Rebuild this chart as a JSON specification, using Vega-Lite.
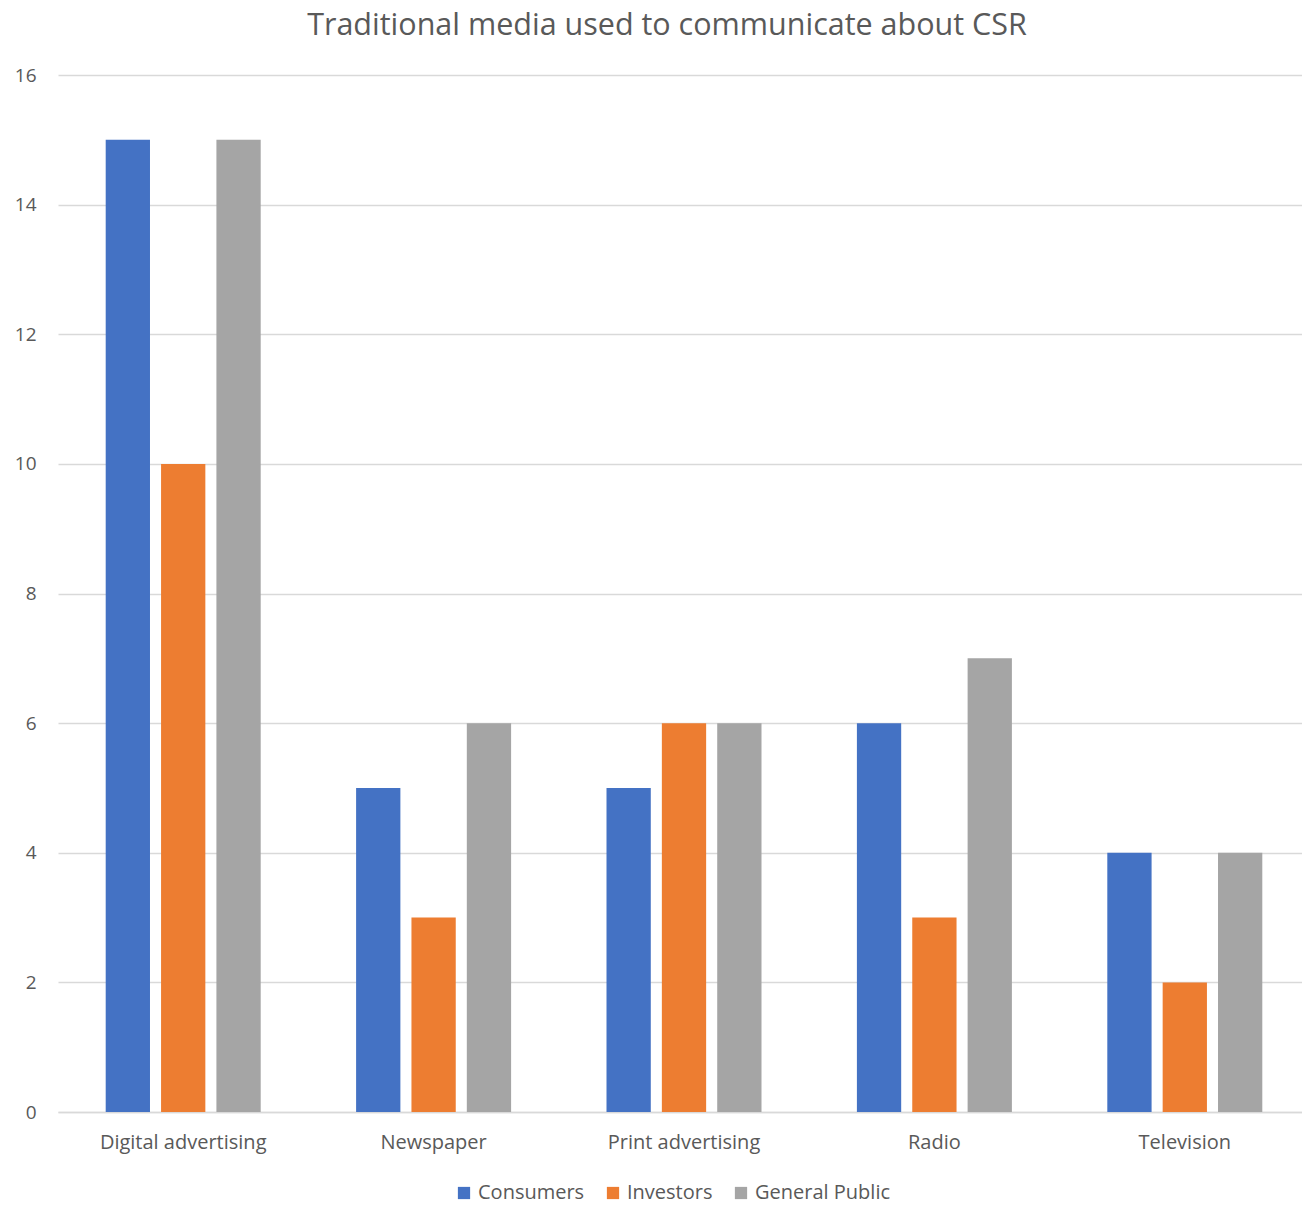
{
  "$schema": "https://vega.github.io/schema/vega-lite/v6.json",
  "width": 1252,
  "height": 1037,
  "autosize": "none",
  "padding": {"left": 58, "top": 75, "right": 0, "bottom": 94},
  "background": "white",
  "config": {"view": {"stroke": null}, "font": "Open Sans"},
  "title": {
    "text": "Traditional media used to communicate about CSR",
    "fontSize": 30.5,
    "fontWeight": "normal",
    "color": "#595959",
    "anchor": "middle",
    "dx": -17,
    "offset": 25
  },
  "data": {
    "values": [
      {"media": "Digital advertising", "group": "Consumers", "value": 15},
      {"media": "Digital advertising", "group": "Investors", "value": 10},
      {"media": "Digital advertising", "group": "General Public", "value": 15},
      {"media": "Newspaper", "group": "Consumers", "value": 5},
      {"media": "Newspaper", "group": "Investors", "value": 3},
      {"media": "Newspaper", "group": "General Public", "value": 6},
      {"media": "Print advertising", "group": "Consumers", "value": 5},
      {"media": "Print advertising", "group": "Investors", "value": 6},
      {"media": "Print advertising", "group": "General Public", "value": 6},
      {"media": "Radio", "group": "Consumers", "value": 6},
      {"media": "Radio", "group": "Investors", "value": 3},
      {"media": "Radio", "group": "General Public", "value": 7},
      {"media": "Television", "group": "Consumers", "value": 4},
      {"media": "Television", "group": "Investors", "value": 2},
      {"media": "Television", "group": "General Public", "value": 4}
    ]
  },
  "mark": {"type": "bar"},
  "encoding": {
    "x": {
      "field": "media",
      "type": "nominal",
      "sort": null,
      "title": null,
      "scale": {"paddingInner": 0.381, "paddingOuter": 0.1905},
      "axis": {
        "labelAngle": 0,
        "labelFontSize": 20,
        "labelColor": "#595959",
        "labelPadding": 20,
        "ticks": false,
        "domainColor": "#d9d9d9",
        "domainWidth": 1.5,
        "grid": false
      }
    },
    "xOffset": {
      "field": "group",
      "type": "nominal",
      "sort": ["Consumers", "Investors", "General Public"],
      "scale": {"paddingInner": 0.2, "paddingOuter": 0}
    },
    "y": {
      "field": "value",
      "type": "quantitative",
      "title": null,
      "scale": {"domain": [0, 16]},
      "axis": {
        "values": [0, 2, 4, 6, 8, 10, 12, 14, 16],
        "labelFontSize": 19,
        "labelColor": "#595959",
        "labelPadding": 22,
        "ticks": false,
        "domain": false,
        "gridColor": "#d9d9d9",
        "gridWidth": 1.5
      }
    },
    "color": {
      "field": "group",
      "type": "nominal",
      "sort": ["Consumers", "Investors", "General Public"],
      "scale": {
        "domain": ["Consumers", "Investors", "General Public"],
        "range": ["#4472C4", "#ED7D31", "#A5A5A5"]
      },
      "legend": {
        "title": null,
        "orient": "none",
        "direction": "horizontal",
        "legendX": 396,
        "legendY": 1108,
        "symbolType": "square",
        "symbolSize": 150,
        "symbolStrokeWidth": 0,
        "labelFontSize": 20,
        "labelColor": "#595959",
        "labelOffset": 4,
        "columnPadding": 18
      }
    }
  }
}
